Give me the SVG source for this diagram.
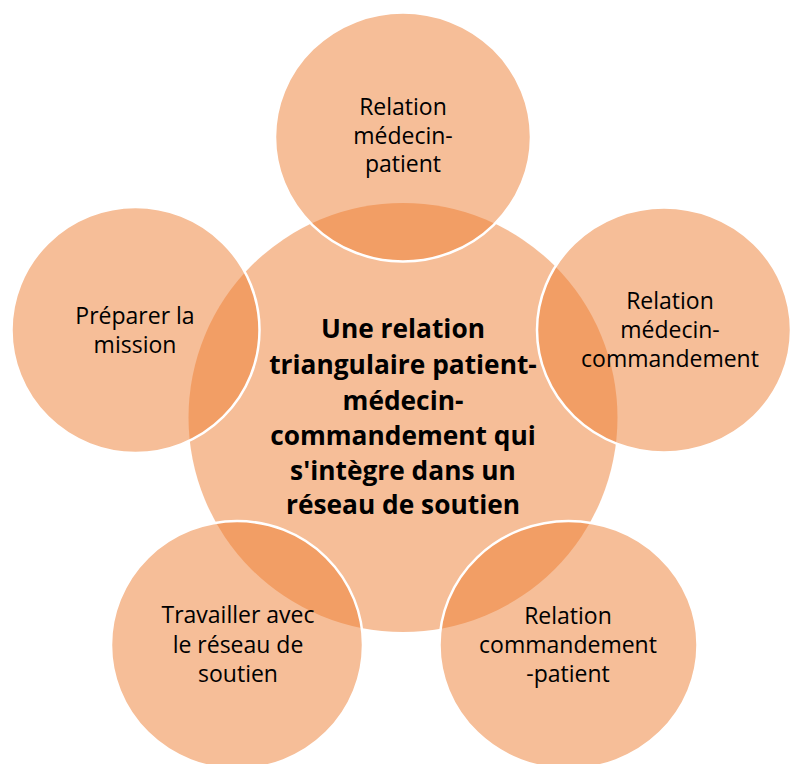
<svg xmlns="http://www.w3.org/2000/svg" width="790" height="764" viewBox="0 0 790 764">
<style>
.c{fill:#ED7D31;fill-opacity:0.5}
.o{stroke:#FFFFFF;stroke-width:2.5}
.t{font-family:"Open Sans","Liberation Sans",sans-serif;font-size:23px;fill:#000;text-anchor:middle}
.b{font-family:"Open Sans","Liberation Sans",sans-serif;font-size:26.3px;font-weight:bold;fill:#000;text-anchor:middle}
</style>
<rect width="790" height="764" fill="#FFFFFF"/>
<g id="center">
<circle class="c" cx="403" cy="417.5" r="214.5"/>
</g>
<g id="n-top">
<ellipse class="c o" cx="403" cy="137" rx="128" ry="124.5"/>
</g>
<g id="n-right">
<ellipse class="c o" cx="664" cy="330" rx="127" ry="122.5"/>
</g>
<g id="n-bottom-right">
<ellipse class="c o" cx="568.5" cy="645" rx="129" ry="124"/>
</g>
<g id="n-bottom-left">
<ellipse class="c o" cx="237" cy="645" rx="126" ry="124"/>
</g>
<g id="n-left">
<ellipse class="c o" cx="135.5" cy="330" rx="124" ry="123"/>
</g>
<g id="connectors"></g>
<g id="labels">
<text class="b"><tspan x="403" y="338">Une relation</tspan><tspan x="403" y="374">triangulaire patient-</tspan><tspan x="403" y="410">médecin-</tspan><tspan x="403" y="445">commandement qui</tspan><tspan x="403" y="480">s'intègre dans un</tspan><tspan x="403" y="514">réseau de soutien</tspan></text>
<text class="t"><tspan x="403" y="115">Relation</tspan><tspan x="403" y="144">médecin-</tspan><tspan x="403" y="172">patient</tspan></text>
<text class="t"><tspan x="670" y="309">Relation</tspan><tspan x="670" y="338">médecin-</tspan><tspan x="670" y="367">commandement</tspan></text>
<text class="t"><tspan x="568" y="624">Relation</tspan><tspan x="568" y="653">commandement</tspan><tspan x="568" y="682">-patient</tspan></text>
<text class="t"><tspan x="238" y="623">Travailler avec</tspan><tspan x="238" y="653">le réseau de</tspan><tspan x="238" y="682">soutien</tspan></text>
<text class="t"><tspan x="135" y="324">Préparer la</tspan><tspan x="135" y="353">mission</tspan></text>
</g>
</svg>
